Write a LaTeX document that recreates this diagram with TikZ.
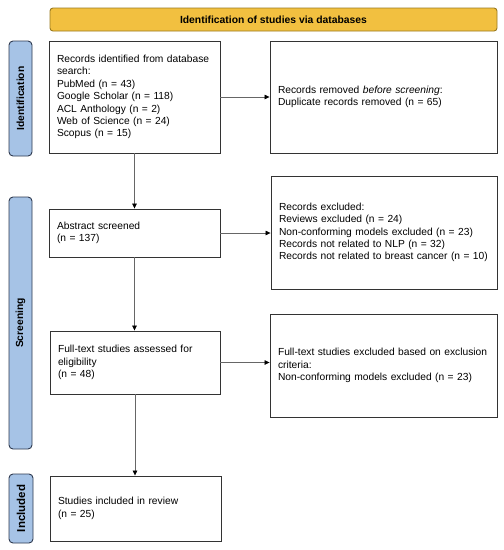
\documentclass[tikz,border=0pt]{standalone}
\usepackage{fontspec}
\setmainfont{Liberation Sans}
\usetikzlibrary{arrows.meta}
\definecolor{hdrfill}{HTML}{F2C040}
\definecolor{hdrline}{HTML}{9A7A20}
\definecolor{barfill}{HTML}{A6C3E6}
\definecolor{barline}{HTML}{2E3A50}
\definecolor{boxline}{HTML}{333333}
\definecolor{arrline}{HTML}{666666}
\begin{document}
\begin{tikzpicture}[x=1pt,y=-1pt,
  box/.style={draw=boxline, line width=0.9pt, fill=white, inner xsep=8pt, inner ysep=0pt,
    align=left, font=\fontsize{10.25}{12.4}\selectfont, anchor=center},
  hdr/.style={draw=hdrline, line width=0.9pt, fill=hdrfill, rounded corners=3pt,
    font=\bfseries\fontsize{10.35}{12}\selectfont, anchor=center, inner sep=0pt},
  bar/.style={draw=barline, line width=0.9pt, fill=barfill, rounded corners=4pt,
    font=\bfseries\fontsize{10.3}{12}\selectfont, anchor=center, inner sep=0pt, rotate=90},
  arr/.style={draw=arrline, line width=0.7pt, -{Triangle[length=5pt,width=4.5pt,color=black]}}
]
\useasboundingbox (0,0) rectangle (504,550);
\fill[white] (0,0) rectangle (504,550);

\node[hdr, minimum width=447pt, minimum height=23pt] (hdr) at (273.5,19.5) {Identification of studies via databases};

\node[bar, minimum width=115pt, minimum height=23pt] (idbar) at (20.5,98.5) {Identification};
\node[bar, minimum width=252pt, minimum height=23pt] (scbar) at (20.5,323) {Screening};
\node[bar, minimum width=69pt, minimum height=24pt, font=\bfseries\fontsize{11.5}{13}\selectfont] (inbar) at (21,508.5) {Included};

\node[box, text width=155pt, minimum height=112pt] (rec) at (134.5,97) {Records identified from database\\search:\\PubMed (n = 43)\\Google Scholar (n = 118)\\ACL Anthology (n = 2)\\Web of Science (n = 24)\\Scopus (n = 15)};
\node[box, text width=211pt, minimum height=112pt] (rem) at (383.5,97) {Records removed \textit{before screening}:\\Duplicate records removed (n = 65)};

\node[box, text width=155pt, minimum height=48pt] (abs) at (134.5,233) {Abstract screened\\(n = 137)};
\node[box, text width=210pt, minimum height=113pt] (exc) at (384,232.5) {Records excluded:\\Reviews excluded (n = 24)\\Non-conforming models excluded (n = 23)\\Records not related to NLP (n = 32)\\Records not related to breast cancer (n = 10)};

\node[box, text width=154pt, minimum height=63pt] (ft) at (135,362.5) {Full-text studies assessed for\\eligibility\\(n = 48)};
\node[box, text width=211pt, minimum height=103pt] (fte) at (383.5,365.5) {Full-text studies excluded based on exclusion\\criteria:\\Non-conforming models excluded (n = 23)};

\node[box, text width=155pt, minimum height=65pt] (stu) at (135.5,508.5) {Studies included in review\\(n = 25)};

\draw[arr] (rec.east) -- (rec.east -| rem.west);
\draw[arr] (abs.east) -- (abs.east -| exc.west);
\draw[arr] (ft.east) -- (ft.east -| fte.west);
\draw[arr] (rec.south) -- (rec.south |- abs.north);
\draw[arr] (abs.south) -- (abs.south |- ft.north);
\draw[arr] (ft.south) -- (ft.south |- stu.north);
\end{tikzpicture}
\end{document}
